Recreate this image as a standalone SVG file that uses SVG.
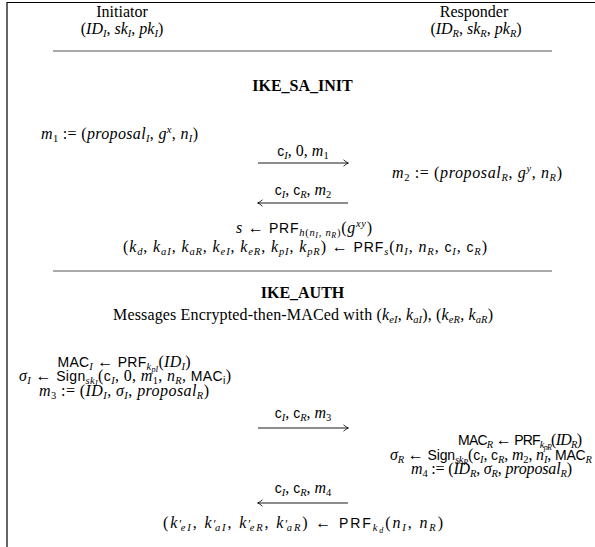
<svg xmlns="http://www.w3.org/2000/svg" width="595" height="547" viewBox="0 0 595 547">
<style>
text{font-family:"Liberation Serif","Times New Roman",serif;font-size:16px;fill:#000}
.i{font-style:italic}
.f{font-family:"Liberation Sans",Arial,sans-serif;font-size:14px;font-style:normal}
.b{font-weight:bold}
.sb{font-size:10.5px;baseline-shift:-3px}
.sp{font-size:10.5px;baseline-shift:6px}
.ss{font-size:8px;baseline-shift:-1.5px}
.pr{font-size:12px}
.m{text-anchor:middle}
.rule{stroke:#555;stroke-width:1.1}
.frame{stroke:#000;stroke-width:1.2;fill:none}
.arr{stroke:#000;stroke-width:0.9;fill:none;marker-end:url(#ah)}
</style>
<defs>
<marker id="ah" markerUnits="userSpaceOnUse" markerWidth="10" markerHeight="10" refX="0" refY="0" viewBox="-6 -5 8 10" orient="auto" overflow="visible">
<path d="M-4.5,-3.2 Q-1.5,-0.6 0.5,0 Q-1.5,0.6 -4.5,3.2" fill="none" stroke="#000" stroke-width="0.8"/>
</marker>
</defs>
<rect width="595" height="547" fill="#fff"/>
<path class="frame" d="M7,547 V2.5 H595"/>

<g id="initiator">
<text class="m" x="122" y="17">Initiator</text>
<text class="m" x="122" y="34">(<tspan class="i">ID</tspan><tspan class="sb i">I</tspan>, <tspan class="i">sk</tspan><tspan class="sb i">I</tspan>, <tspan class="i">pk</tspan><tspan class="sb i">I</tspan>)</text>
</g>
<g id="responder">
<text class="m" x="474" y="17">Responder</text>
<text class="m" x="476" y="34">(<tspan class="i">ID</tspan><tspan class="sb i">R</tspan>, <tspan class="i">sk</tspan><tspan class="sb i">R</tspan>, <tspan class="i">pk</tspan><tspan class="sb i">R</tspan>)</text>
</g>
<line class="rule" x1="53" y1="51" x2="552" y2="51"/>

<g id="ike-sa-init">
<text class="m b" x="302.5" y="91">IKE_SA_INIT</text>
</g>

<g id="init-m1">
<text x="41" y="139" textLength="157" lengthAdjust="spacing"><tspan class="i">m</tspan><tspan class="sb">1</tspan> := (<tspan class="i">proposal</tspan><tspan class="sb i">I</tspan>, <tspan class="i">g</tspan><tspan class="sp i">x</tspan>, <tspan class="i">n</tspan><tspan class="sb i">I</tspan>)</text>
</g>
<g id="resp-m2">
<text x="392" y="178" textLength="170" lengthAdjust="spacing"><tspan class="i">m</tspan><tspan class="sb">2</tspan> := (<tspan class="i">proposal</tspan><tspan class="sb i">R</tspan>, <tspan class="i">g</tspan><tspan class="sp i">y</tspan>, <tspan class="i">n</tspan><tspan class="sb i">R</tspan>)</text>
</g>
<g id="keys-init">
<text class="m" x="304" y="233" textLength="136" lengthAdjust="spacing"><tspan class="i">s</tspan> ← <tspan class="f">PRF</tspan><tspan class="sb"><tspan class="i">h</tspan>(<tspan class="i">n</tspan><tspan class="ss i">I</tspan>, <tspan class="i">n</tspan><tspan class="ss i">R</tspan>)</tspan>(<tspan class="i">g</tspan><tspan class="sp i">xy</tspan>)</text>
<text class="m" x="305" y="252" textLength="364" lengthAdjust="spacing">(<tspan class="i">k</tspan><tspan class="sb i">d</tspan>, <tspan class="i">k</tspan><tspan class="sb i">aI</tspan>, <tspan class="i">k</tspan><tspan class="sb i">aR</tspan>, <tspan class="i">k</tspan><tspan class="sb i">eI</tspan>, <tspan class="i">k</tspan><tspan class="sb i">eR</tspan>, <tspan class="i">k</tspan><tspan class="sb i">pI</tspan>, <tspan class="i">k</tspan><tspan class="sb i">pR</tspan>) ← <tspan class="f">PRF</tspan><tspan class="sb i">s</tspan>(<tspan class="i">n</tspan><tspan class="sb i">I</tspan>, <tspan class="i">n</tspan><tspan class="sb i">R</tspan>, <tspan class="f">c</tspan><tspan class="sb i">I</tspan>, <tspan class="f">c</tspan><tspan class="sb i">R</tspan>)</text>
</g>
<line class="rule" x1="53" y1="271" x2="552" y2="271"/>

<g id="ike-auth">
<text class="m b" x="302.5" y="298">IKE_AUTH</text>
<text class="m" x="303" y="320" textLength="380" lengthAdjust="spacing">Messages Encrypted-then-MACed with (<tspan class="i">k</tspan><tspan class="sb i">eI</tspan>, <tspan class="i">k</tspan><tspan class="sb i">aI</tspan>), (<tspan class="i">k</tspan><tspan class="sb i">eR</tspan>, <tspan class="i">k</tspan><tspan class="sb i">aR</tspan>)</text>
</g>

<g id="init-auth">
<text class="m" x="124" y="367" textLength="133" lengthAdjust="spacing"><tspan class="f">MAC</tspan><tspan class="sb i">I</tspan> ← <tspan class="f">PRF</tspan><tspan class="sb"><tspan class="i">k</tspan><tspan class="ss i">pI</tspan></tspan>(<tspan class="i">ID</tspan><tspan class="sb i">I</tspan>)</text>
<text class="m" x="125" y="381" textLength="212" lengthAdjust="spacing"><tspan class="i">σ</tspan><tspan class="sb i">I</tspan> ← <tspan class="f">Sign</tspan><tspan class="sb"><tspan class="i">sk</tspan><tspan class="ss i">I</tspan></tspan>(<tspan class="f">c</tspan><tspan class="sb i">I</tspan>, 0, <tspan class="i">m</tspan><tspan class="sb">1</tspan>, <tspan class="i">n</tspan><tspan class="sb i">R</tspan>, <tspan class="f">MAC</tspan><tspan class="sb f">i</tspan>)</text>
<text class="m" x="124" y="396" textLength="170" lengthAdjust="spacing"><tspan class="i">m</tspan><tspan class="sb">3</tspan> := (<tspan class="i">ID</tspan><tspan class="sb i">I</tspan>, <tspan class="i">σ</tspan><tspan class="sb i">I</tspan>, <tspan class="i">proposal</tspan><tspan class="sb i">R</tspan>)</text>
</g>

<g id="resp-auth">
<text x="458" y="445" textLength="124" lengthAdjust="spacing"><tspan class="f">MAC</tspan><tspan class="sb i">R</tspan> ← <tspan class="f">PRF</tspan><tspan class="sb"><tspan class="i">k</tspan><tspan class="ss i">pR</tspan></tspan>(<tspan class="i">ID</tspan><tspan class="sb i">R</tspan>)</text>
<text x="390" y="460" textLength="202" lengthAdjust="spacing"><tspan class="i">σ</tspan><tspan class="sb i">R</tspan> ← <tspan class="f">Sign</tspan><tspan class="sb"><tspan class="i">sk</tspan><tspan class="ss i">R</tspan></tspan>(<tspan class="f">c</tspan><tspan class="sb i">I</tspan>, <tspan class="f">c</tspan><tspan class="sb i">R</tspan>, <tspan class="i">m</tspan><tspan class="sb">2</tspan>, <tspan class="i">n</tspan><tspan class="sb i">I</tspan>, <tspan class="f">MAC</tspan><tspan class="sb i">R</tspan></text>
<text x="411" y="474" textLength="161" lengthAdjust="spacing"><tspan class="i">m</tspan><tspan class="sb">4</tspan> := (<tspan class="i">ID</tspan><tspan class="sb i">R</tspan>, <tspan class="i">σ</tspan><tspan class="sb i">R</tspan>, <tspan class="i">proposal</tspan><tspan class="sb i">R</tspan>)</text>
</g>

<g id="final-keys">
<text class="m" x="303" y="528" textLength="280" lengthAdjust="spacing">(<tspan class="i">k</tspan><tspan class="pr">′</tspan><tspan class="sb i" dx="-3">eI</tspan>, <tspan class="i">k</tspan><tspan class="pr">′</tspan><tspan class="sb i" dx="-3">aI</tspan>, <tspan class="i">k</tspan><tspan class="pr">′</tspan><tspan class="sb i" dx="-3">eR</tspan>, <tspan class="i">k</tspan><tspan class="pr">′</tspan><tspan class="sb i" dx="-3">aR</tspan>) ← <tspan class="f">PRF</tspan><tspan class="sb"><tspan class="i">k</tspan><tspan class="ss i">d</tspan></tspan>(<tspan class="i">n</tspan><tspan class="sb i">I</tspan>, <tspan class="i">n</tspan><tspan class="sb i">R</tspan>)</text>
</g>

<g id="connectors">
<text class="m" x="303" y="156"><tspan class="f">c</tspan><tspan class="sb i">I</tspan>, 0, <tspan class="i">m</tspan><tspan class="sb">1</tspan></text>
<line class="arr" x1="258" y1="163" x2="348" y2="163"/>
<text class="m" x="303" y="195"><tspan class="f">c</tspan><tspan class="sb i">I</tspan>, <tspan class="f">c</tspan><tspan class="sb i">R</tspan>, <tspan class="i">m</tspan><tspan class="sb">2</tspan></text>
<line class="arr" x1="348" y1="203" x2="258" y2="203"/>
<text class="m" x="303" y="418"><tspan class="f">c</tspan><tspan class="sb i">I</tspan>, <tspan class="f">c</tspan><tspan class="sb i">R</tspan>, <tspan class="i">m</tspan><tspan class="sb">3</tspan></text>
<line class="arr" x1="258" y1="428" x2="348" y2="428"/>
<text class="m" x="303" y="493"><tspan class="f">c</tspan><tspan class="sb i">I</tspan>, <tspan class="f">c</tspan><tspan class="sb i">R</tspan>, <tspan class="i">m</tspan><tspan class="sb">4</tspan></text>
<line class="arr" x1="348" y1="503" x2="258" y2="503"/>
</g>
</svg>
